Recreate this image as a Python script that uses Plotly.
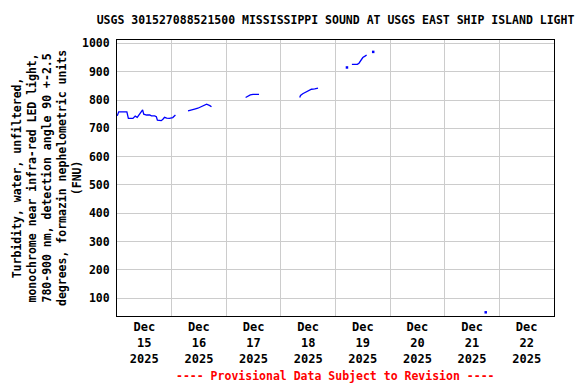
import plotly.graph_objects as go

# Data
line_times = [
    "2025-12-15 00:07", "2025-12-15 00:45", "2025-12-15 04:20", "2025-12-15 05:00",
    "2025-12-15 07:00", "2025-12-15 08:00", "2025-12-15 08:53", "2025-12-15 10:20",
    "2025-12-15 11:15", "2025-12-15 11:45", "2025-12-15 13:00", "2025-12-15 14:24",
    "2025-12-15 15:07", "2025-12-15 16:34", "2025-12-15 17:17", "2025-12-15 17:45",
    "2025-12-15 18:45", "2025-12-15 19:26", "2025-12-15 20:10", "2025-12-15 20:53",
    "2025-12-15 21:50", "2025-12-15 23:00", "2025-12-16 00:30", "2025-12-16 01:40",
    None,
    "2025-12-16 07:12", "2025-12-16 09:22", "2025-12-16 10:05", "2025-12-16 11:31",
    "2025-12-16 12:14", "2025-12-16 13:41", "2025-12-16 15:22", "2025-12-16 16:48",
    "2025-12-16 17:31",
    None,
    "2025-12-17 08:31", "2025-12-17 09:36", "2025-12-17 10:34", "2025-12-17 11:46",
    "2025-12-17 14:24",
    None,
    "2025-12-18 08:17", "2025-12-18 08:38", "2025-12-18 09:36", "2025-12-18 10:48",
    "2025-12-18 12:00", "2025-12-18 13:26", "2025-12-18 14:53", "2025-12-18 16:19",
    None,
    "2025-12-19 07:12", "2025-12-19 09:36", "2025-12-19 10:19", "2025-12-19 11:02",
    "2025-12-19 11:31", "2025-12-19 12:00", "2025-12-19 12:58", "2025-12-19 13:41",
]
line_values = [
    744, 758, 758, 735,
    735, 743, 739, 755,
    765, 750, 747, 747,
    744, 744, 741, 729,
    727, 727, 732, 739,
    736, 735, 738, 747,
    None,
    762, 765, 768, 771,
    774, 779, 785, 780,
    776,
    None,
    809, 814, 818, 820,
    820,
    None,
    809, 816, 822, 828,
    833, 838, 839, 842,
    None,
    926, 926, 930, 938,
    945, 950, 955, 959,
]

point_times = ["2025-12-19 05:02", "2025-12-19 16:34", "2025-12-21 18:00"]
point_values = [915, 970, 50]

y_ticks = [100, 200, 300, 400, 500, 600, 700, 800, 900, 1000]

title_text = "USGS 301527088521500 MISSISSIPPI SOUND AT USGS EAST SHIP ISLAND LIGHT"
y_title_lines = [
    "Turbidity, water, unfiltered,",
    "monochrome near infra-red LED light,",
    "780-900 nm, detection angle 90 +-2.5",
    "degrees, formazin nephelometric units",
    "(FNU)",
]
footer_text = "---- Provisional Data Subject to Revision ----"

FONT = "DejaVu Sans Mono"
W, H = 576, 384
ML, MR, MT, MB = 117, 22, 40, 68
PW = W - ML - MR
PH = H - MT - MB

fig = go.Figure()
fig.add_trace(go.Scatter(
    x=line_times, y=line_values, mode="lines",
    line=dict(color="#0000ff", width=1.3), connectgaps=False,
    hoverinfo="skip", showlegend=False,
))
fig.add_trace(go.Scatter(
    x=point_times, y=point_values, mode="markers",
    marker=dict(color="#0000ff", size=2.5, symbol="square"),
    hoverinfo="skip", showlegend=False,
))

fig.update_layout(
    width=W, height=H,
    margin=dict(l=ML, r=MR, t=MT, b=MB),
    paper_bgcolor="white", plot_bgcolor="white",
    font=dict(family=FONT, size=11.5, color="black", weight=700),
    title=dict(text=title_text, x=(ML + PW / 2) / W, xanchor="center",
               y=1 - 20 / H, yanchor="middle",
               font=dict(family=FONT, size=11.5, color="black", weight=700)),
    xaxis=dict(
        type="date",
        range=["2025-12-15 00:00", "2025-12-23 00:00"],
        tick0="2025-12-15", dtick=86400000,
        tickformat="%b<br>%d<br>%Y", ticklabelmode="period",
        showgrid=True, gridcolor="#cccccc", gridwidth=1,
        showline=True, linecolor="black", linewidth=1, mirror=True,
        ticks="", zeroline=False,
        tickfont=dict(family=FONT, size=12, color="black", weight=700),
    ),
    yaxis=dict(
        range=[37, 1012],
        tickvals=y_ticks,
        showgrid=True, gridcolor="#cccccc", gridwidth=1,
        showline=True, linecolor="black", linewidth=1, mirror=True,
        ticks="outside", ticklen=4, tickcolor="white", zeroline=False,
        tickfont=dict(family=FONT, size=11.5, color="black", weight=700),
    ),
)

fig.add_annotation(
    text="<br>".join(y_title_lines),
    xref="paper", yref="paper",
    x=(47 - ML) / PW, y=0.5, xanchor="center", yanchor="middle",
    textangle=-90, showarrow=False, align="center",
    font=dict(family=FONT, size=11.5, color="black", weight=700),
)
fig.add_annotation(
    text=footer_text,
    xref="paper", yref="paper",
    x=0.5, y=-(376 - (H - MB)) / PH, xanchor="center", yanchor="middle",
    showarrow=False,
    font=dict(family=FONT, size=11.5, color="red", weight=700),
)

fig.write_html(
    "out.html",
    config={"displayModeBar": False, "staticPlot": True},
    post_script="document.body.style.margin='0';document.body.style.overflow='hidden';",
)
